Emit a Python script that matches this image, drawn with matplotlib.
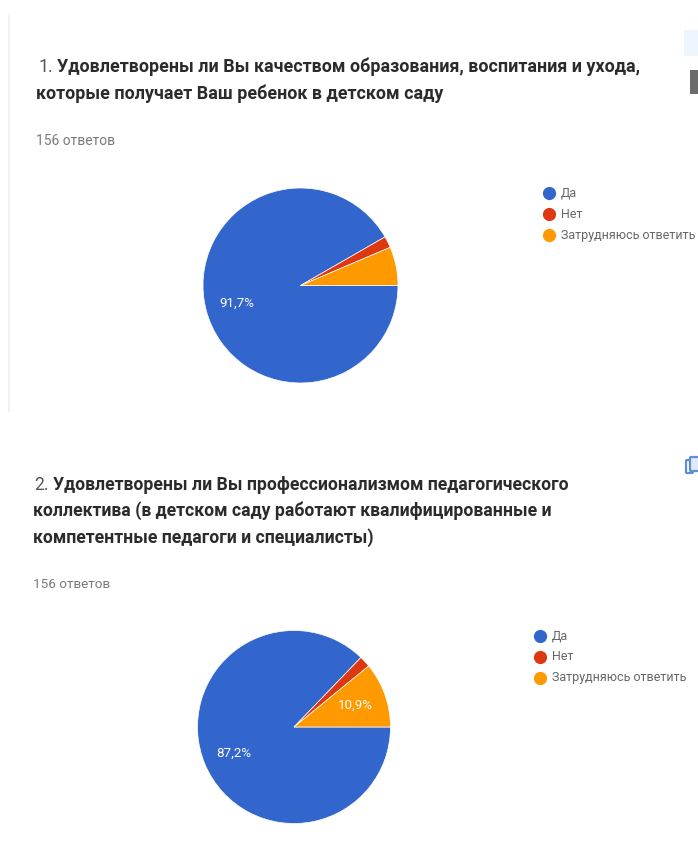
import matplotlib
matplotlib.use("Agg")
import matplotlib.pyplot as plt
from matplotlib.lines import Line2D
from matplotlib.patches import Rectangle, FancyBboxPatch

plt.rcParams['font.family'] = ['Roboto', 'DejaVu Sans']

W, H = 698, 852

categories = ["Да", "Нет", "Затрудняюсь ответить"]
colors = ["#3366cc", "#dc3912", "#ff9900"]
values_q1 = [91.7, 1.9, 6.4]
values_q2 = [87.2, 1.9, 10.9]
labels_q1 = ["91,7%", "", ""]
labels_q2 = ["87,2%", "", "10,9%"]
answers = "156 ответов"
q1_number = "1."
q1_lines = ["Удовлетворены ли Вы качеством образования, воспитания и ухода,",
            "которые получает Ваш ребенок в детском саду"]
q2_number = "2."
q2_lines = ["Удовлетворены ли Вы профессионализмом педагогического",
            "коллектива (в детском саду работают квалифицированные и",
            "компетентные педагоги и специалисты)"]

fig = plt.figure(figsize=(W / 100, H / 100), dpi=100, facecolor="white")
bg = fig.add_axes([0, 0, 1, 1], zorder=5)
bg.set_xlim(0, W)
bg.set_ylim(H, 0)
bg.axis("off")
bg.patch.set_alpha(0)

# card edge and clipped toolbar icons
bg.add_patch(Rectangle((8, 15), 2, 397, fc="#f1f1f3", ec="none"))
bg.add_patch(Rectangle((690, 70), 8, 24, fc="#6c6c6c", ec="none"))
bg.add_patch(Rectangle((684, 30), 14, 26, fc="#eef5fd", ec="none"))
bg.add_patch(FancyBboxPatch((686, 460), 7, 13, boxstyle="round,pad=0,rounding_size=1",
                            fc="white", ec="#5f8fd0", lw=1.6))
bg.add_patch(FancyBboxPatch((690, 457), 10, 14, boxstyle="round,pad=0,rounding_size=1",
                            fc="#dfe9f7", ec="#5f8fd0", lw=1.6))

TITLE = "#2b2b2b"
SUB = "#7a7a7a"
TFS1 = 12.9
TFS2 = 12.7
bg.text(38, 67, q1_number, fontsize=TFS1, color="#555555", va="center", ha="left")
bg.text(57, 67, q1_lines[0], fontsize=TFS1, fontweight="bold", color=TITLE, va="center", ha="left")
bg.text(36, 94, q1_lines[1], fontsize=TFS1, fontweight="bold", color=TITLE, va="center", ha="left")
bg.text(36, 141, answers, fontsize=10, color=SUB, va="center", ha="left")

bg.text(34, 485, q2_number, fontsize=TFS2, color="#555555", va="center", ha="left")
bg.text(53, 485, q2_lines[0], fontsize=TFS2, fontweight="bold", color=TITLE, va="center", ha="left")
bg.text(33, 511, q2_lines[1], fontsize=TFS2, fontweight="bold", color=TITLE, va="center", ha="left")
bg.text(33, 538, q2_lines[2], fontsize=TFS2, fontweight="bold", color=TITLE, va="center", ha="left")
bg.text(33, 584, answers, fontsize=9.7, color=SUB, va="center", ha="left")


def pie_panel(values, labels, cx, cy, r, label_pos, leg_x, leg_y):
    ax = fig.add_axes([(cx - r) / W, 1 - (cy + r) / H, 2 * r / W, 2 * r / H])
    ax.pie(values, colors=colors, startangle=0, counterclock=False, radius=1,
           wedgeprops=dict(edgecolor="white", linewidth=0.5))
    ax.set_xlim(-1, 1)
    ax.set_ylim(-1, 1)
    ax.set_aspect("equal")
    for lab, (lx, ly) in zip(labels, label_pos):
        if lab:
            bg.text(lx, ly, lab, fontsize=9.6, color="white", ha="center", va="center")
    for i, (cat, col) in enumerate(zip(categories, colors)):
        y = leg_y + i * 21
        bg.add_line(Line2D([leg_x], [y], marker="o", ms=8.5, color=col, mec=col, ls="none"))
        bg.text(leg_x + 12, y, cat, fontsize=9, color="#666666", va="center", ha="left")


pie_panel(values_q1, labels_q1, 300.5, 285.5, 97.5,
          [(237, 303), (0, 0), (0, 0)], 549, 193)
pie_panel(values_q2, labels_q2, 294, 727, 96.5,
          [(234, 753), (0, 0), (355, 705)], 540, 636)

fig.savefig("out.png", dpi=100, facecolor="white")
